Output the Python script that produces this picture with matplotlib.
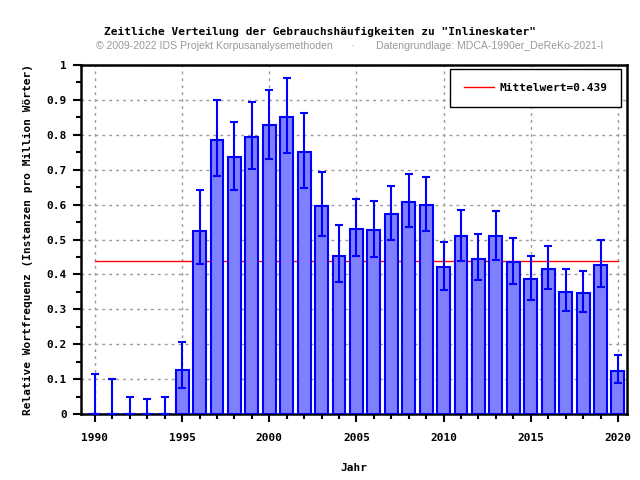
import matplotlib
matplotlib.use("Agg")
import matplotlib.pyplot as plt
from matplotlib.ticker import MultipleLocator

years = list(range(1990, 2021))
values = [0, 0, 0, 0, 0, 0.125, 0.525, 0.784, 0.735, 0.793, 0.827, 0.850, 0.750,
          0.595, 0.454, 0.531, 0.526, 0.572, 0.608, 0.598, 0.420, 0.509, 0.445,
          0.509, 0.435, 0.388, 0.416, 0.350, 0.348, 0.428, 0.124]
err_hi = [0.115, 0.100, 0.049, 0.043, 0.049, 0.207, 0.643, 0.900, 0.838, 0.895, 0.929,
          0.964, 0.863, 0.694, 0.542, 0.617, 0.611, 0.654, 0.689, 0.680, 0.494, 0.585,
          0.517, 0.583, 0.505, 0.454, 0.482, 0.415, 0.411, 0.499, 0.170]
err_lo = [0, 0, 0, 0, 0, 0.075, 0.429, 0.683, 0.642, 0.703, 0.731, 0.749, 0.648,
          0.511, 0.378, 0.454, 0.451, 0.499, 0.537, 0.524, 0.355, 0.438, 0.384,
          0.441, 0.373, 0.327, 0.358, 0.296, 0.292, 0.365, 0.089]
mean_value = 0.439

title = 'Zeitliche Verteilung der Gebrauchshäufigkeiten zu "Inlineskater"'
subtitle_left = "© 2009-2022 IDS Projekt Korpusanalysemethoden"
subtitle_right = "Datengrundlage: MDCA-1990er_DeReKo-2021-I"

mono = "DejaVu Sans Mono"

fig = plt.figure(figsize=(6.4, 4.8), dpi=100)
ax = fig.add_axes([81 / 640, 66 / 480, 546 / 640, 349 / 480])

yerr = [[v - lo for v, lo in zip(values, err_lo)],
        [hi - v for v, hi in zip(values, err_hi)]]
ax.bar(years, values, width=0.74, color="#8080ff", edgecolor="#0000ff",
       linewidth=1.5, zorder=3)
ax.errorbar(years, values, yerr=yerr, fmt="none", ecolor="#0000ff",
            elinewidth=1.5, capsize=3, capthick=1.5, zorder=4)
ax.plot([years[0], years[-1]], [mean_value, mean_value], color="#ff0000", lw=1.0,
        zorder=2, label=f"Mittelwert={mean_value}")

ax.set_xlim(1989.2, 2020.52)
ax.set_ylim(0, 1)
ax.xaxis.set_major_locator(MultipleLocator(5))
ax.xaxis.set_minor_locator(MultipleLocator(1))
ax.yaxis.set_major_locator(MultipleLocator(0.1))
ax.yaxis.set_minor_locator(MultipleLocator(0.05))
ax.yaxis.set_major_formatter(plt.FuncFormatter(lambda v, p: "0" if v == 0 else ("1" if v == 1 else f"{v:.1f}")))
ax.tick_params(which="major", direction="out", length=6, width=1.5, pad=4)
ax.tick_params(which="minor", direction="out", length=3.5, width=1.5)
ax.tick_params(axis="x", which="major", pad=8)
for lab in ax.get_xticklabels() + ax.get_yticklabels():
    lab.set_fontfamily(mono)
    lab.set_fontweight("bold")
    lab.set_fontsize(8)
for sp in ax.spines.values():
    sp.set_linewidth(1.8)

ax.grid(True, which="major", color="#999999", linestyle=(0, (2, 3)), lw=1, zorder=1)
ax.set_axisbelow(True)

ax.set_xlabel("Jahr", fontfamily=mono, fontweight="bold", fontsize=8, labelpad=14)
ax.set_ylabel("Relative Wortfrequenz (Instanzen pro Million Wörter)",
              fontfamily=mono, fontweight="bold", fontsize=8, labelpad=10)

leg = ax.legend(loc="upper right", prop={"family": mono, "weight": "bold", "size": 8},
                fancybox=False, edgecolor="black", framealpha=1, handlelength=2.7,
                handletextpad=0.45, borderpad=1.25,
                borderaxespad=0, bbox_to_anchor=(1 - 6 / 546, 1 - 4 / 349))
leg.get_frame().set_linewidth(1)

fig.text(0.5, 1 - 32 / 480, title, ha="center", va="center", fontfamily=mono,
         fontweight="bold", fontsize=8)
fig.text(96 / 640, 1 - 46 / 480, subtitle_left, ha="left", va="center",
         color="#999999", fontsize=7.6, fontfamily="Liberation Sans")
fig.text(352 / 640, 1 - 46 / 480, "·", ha="center", va="center", color="#999999",
         fontsize=7.6, fontfamily="Liberation Sans")
fig.text(376 / 640, 1 - 46 / 480, subtitle_right, ha="left", va="center",
         color="#999999", fontsize=7.6, fontfamily="Liberation Sans")

fig.savefig("out.png", dpi=100)
